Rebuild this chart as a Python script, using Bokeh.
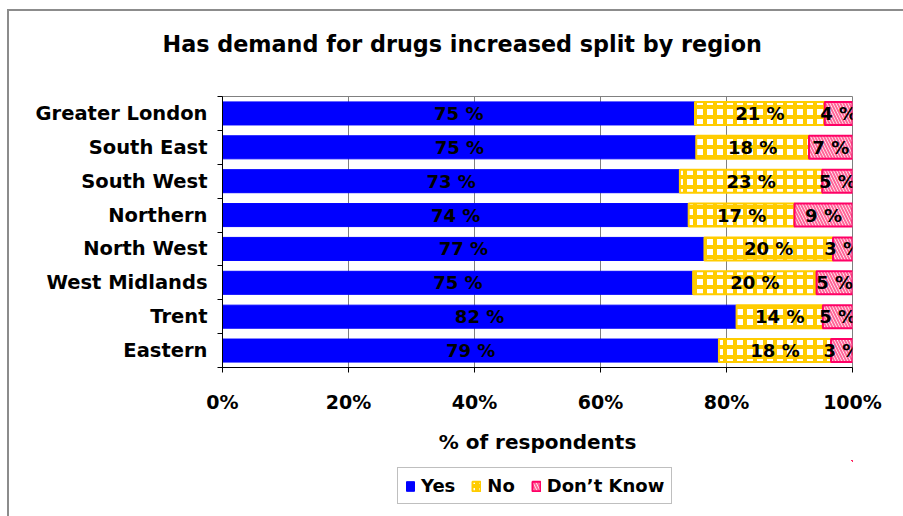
from bokeh.plotting import figure
from bokeh.layouts import column
from bokeh.models import (Range1d, FixedTicker, LinearAxis, Legend, LegendItem,
                          ColumnDataSource)
from bokeh.core.properties import value
from bokeh.embed import file_html
from bokeh.resources import INLINE

# ---------------- data ----------------
regions = ["Greater London", "South East", "South West", "Northern",
           "North West", "West Midlands", "Trent", "Eastern"]
yes = [75.0, 75.2, 72.6, 74.0, 76.5, 74.7, 81.6, 78.8]
no = [20.6, 17.9, 22.6, 16.8, 20.4, 19.6, 13.7, 17.8]
dont_know = [4.4, 6.9, 4.8, 9.2, 3.1, 5.7, 4.7, 3.4]
yes_labels = ["75 %", "75 %", "73 %", "74 %", "77 %", "75 %", "82 %", "79 %"]
no_labels = ["21 %", "18 %", "23 %", "17 %", "20 %", "20 %", "14 %", "18 %"]
dk_labels = ["4 %", "7 %", "5 %", "9 %", "3 %", "5 %", "5 %", "3 %"]
x_ticks = [0, 20, 40, 60, 80, 100]
x_tick_labels = ["0%", "20%", "40%", "60%", "80%", "100%"]
series_names = ["Yes", "No", "Don\u2019t Know"]

# ---------------- derived ----------------
ys = [i + 0.5 for i in range(len(regions))]
no_left = yes
no_right = [a + b for a, b in zip(yes, no)]
dk_left = no_right
dk_right = [a + b for a, b in zip(no_right, dont_know)]

src_yes = ColumnDataSource(dict(y=ys, left=[0] * len(yes), right=yes,
                                xm=[v / 2 for v in yes], t=yes_labels))
src_no = ColumnDataSource(dict(y=ys, left=no_left, right=no_right,
                               xm=[(a + b) / 2 for a, b in zip(no_left, no_right)], t=no_labels))
src_dk = ColumnDataSource(dict(y=ys, left=dk_left, right=dk_right,
                               xm=[(a + b) / 2 for a, b in zip(dk_left, dk_right)], t=dk_labels))

FONT = "DejaVu Sans"

YES_STYLE = dict(fill_color="#0000FF", line_color="#0000FF", line_width=1)
NO_STYLE = dict(fill_color="white", line_color="#FFCC00", line_width=2,
                hatch_pattern="cross", hatch_color="#FFCC00",
                hatch_scale=10, hatch_weight=4)
DK_STYLE = dict(fill_color="white", line_color="#FF0066", line_width=2,
                hatch_pattern="left_diagonal_line", hatch_color="#FF6699",
                hatch_scale=6, hatch_weight=2)

p = figure(width=894, height=449, output_backend="svg", toolbar_location=None,
           x_range=Range1d(0, 100), y_range=Range1d(len(regions), 0),
           min_border_left=213, min_border_right=51, min_border_top=85,
           min_border_bottom=93)
p.background_fill_color = "white"
p.border_fill_color = "white"
p.outline_line_color = "#808080"
p.outline_line_width = 1

# title
p.title.text = "Has demand for drugs increased split by region"
p.title.text_font = FONT
p.title.text_font_style = "bold"
p.title.text_font_size = "22.3px"
p.title.text_color = "black"
p.title.align = "left"
p.title.offset = -60
try:
    p.title.padding = dict(left=0, right=0, top=0, bottom=40)
    p.title.standoff = 0
except Exception:
    p.title.vertical_align = "top"
    p.title.standoff = 56

# grid
p.ygrid.visible = False
p.xgrid.ticker = FixedTicker(ticks=x_ticks)
p.xgrid.grid_line_color = "#808080"
p.xgrid.grid_line_width = 1

# x axis
xa = p.xaxis[0]
xa.ticker = FixedTicker(ticks=x_ticks)
xa.major_label_overrides = {t: l for t, l in zip(x_ticks, x_tick_labels)}
xa.major_tick_out = 5
xa.major_tick_in = 0
xa.minor_tick_out = 0
xa.minor_tick_in = 0
xa.axis_line_color = "black"
xa.major_tick_line_color = "black"
xa.major_label_text_font = FONT
xa.major_label_text_font_style = "bold"
xa.major_label_text_font_size = "19px"
xa.major_label_text_color = "black"
xa.major_label_standoff = 18
xa.axis_label = "% of respondents"
xa.axis_label_text_font = FONT
xa.axis_label_text_font_style = "bold"
xa.axis_label_text_font_size = "20px"
xa.axis_label_text_color = "black"
xa.axis_label_standoff = 14

# y axis (ticks at boundaries, no labels)
ya = p.yaxis[0]
ya.ticker = FixedTicker(ticks=list(range(len(regions) + 1)))
ya.major_tick_out = 5
ya.major_tick_in = 0
ya.minor_tick_out = 0
ya.minor_tick_in = 0
ya.major_label_text_font_size = "1px"
ya.major_label_text_alpha = 0
ya.major_label_standoff = 0
ya.axis_line_color = "black"
ya.major_tick_line_color = "black"

# y axis with region labels
ya2 = LinearAxis(ticker=FixedTicker(ticks=ys),
                 major_label_overrides={y: r for y, r in zip(ys, regions)})
ya2.axis_line_color = None
ya2.major_tick_line_color = None
ya2.minor_tick_line_color = None
ya2.major_tick_out = 0
ya2.major_tick_in = 0
ya2.major_label_text_font = FONT
ya2.major_label_text_font_style = "bold"
ya2.major_label_text_font_size = "19.5px"
ya2.major_label_text_color = "black"
ya2.major_label_standoff = 10
p.add_layout(ya2, "left")

BAR_H = 0.68
p.hbar(y="y", left="left", right="right", height=BAR_H, source=src_yes, **YES_STYLE)
p.hbar(y="y", left="left", right="right", height=BAR_H, source=src_no, **NO_STYLE)
p.hbar(y="y", left="left", right="right", height=BAR_H, source=src_dk, **DK_STYLE)

for src in (src_yes, src_no, src_dk):
    p.text(x="xm", y="y", text="t", source=src, text_font=value(FONT),
           text_font_style="bold", text_font_size="18px", text_align="center",
           text_baseline="middle", text_color="black")

# ---------------- legend strip (same series, ranges kept out of view) ----------------
pl = figure(width=894, height=56, output_backend="svg", toolbar_location=None,
            x_range=Range1d(-2, -1), y_range=Range1d(-2, -1),
            x_axis_type=None, y_axis_type=None, min_border=0)
pl.outline_line_color = None
pl.background_fill_color = "white"
pl.border_fill_color = "white"
ly = pl.hbar(y="y", left="left", right="right", height=BAR_H, source=src_yes, **YES_STYLE)
ln = pl.hbar(y="y", left="left", right="right", height=BAR_H, source=src_no, **NO_STYLE)
ld = pl.hbar(y="y", left="left", right="right", height=BAR_H, source=src_dk, **DK_STYLE)

legend = Legend(items=[LegendItem(label=series_names[0], renderers=[ly]),
                       LegendItem(label=series_names[1], renderers=[ln]),
                       LegendItem(label=series_names[2], renderers=[ld])],
                orientation="horizontal", location=(175, 12))
legend.border_line_color = "#808080"
legend.border_line_width = 1
legend.background_fill_color = "white"
legend.label_text_font = FONT
legend.label_text_font_style = "bold"
legend.label_text_font_size = "18px"
legend.label_text_color = "black"
legend.glyph_width = 10
legend.glyph_height = 12
legend.label_standoff = 6
legend.spacing = 16
legend.padding = 7
legend.margin = 0
legend.label_height = 18
pl.add_layout(legend, "center")

layout = column(p, pl, spacing=0)
layout.styles = {"border-left": "2px solid #8c8c8c", "border-top": "2px solid #8c8c8c",
                 "margin-left": "7px", "margin-top": "9px"}

open("out.html", "w").write(file_html(layout, INLINE))
